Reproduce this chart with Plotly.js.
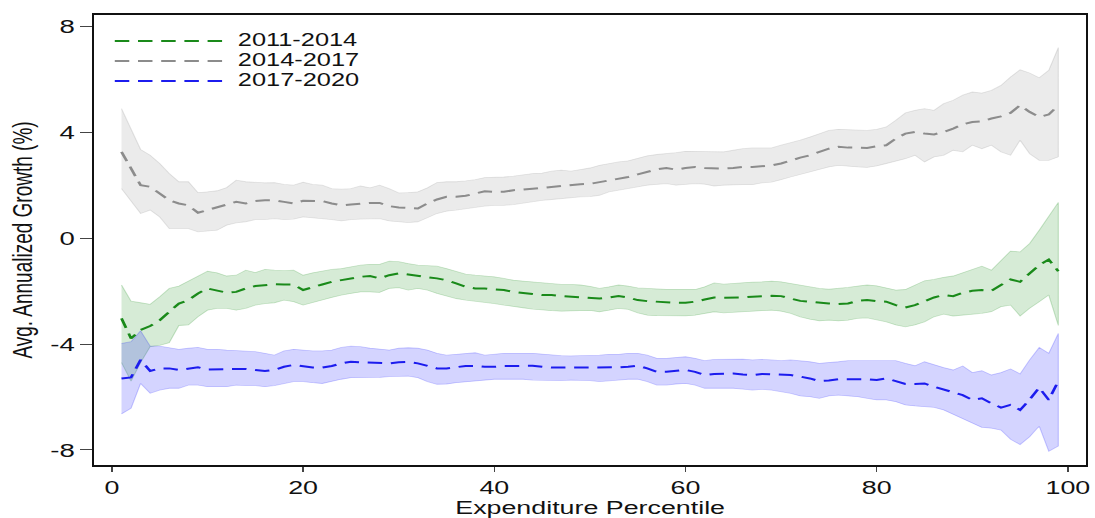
<!DOCTYPE html>
<html>
<head>
<meta charset="utf-8">
<script src="https://cdn.plot.ly/plotly-3.0.1.min.js"></script>
<style>
  html, body { margin: 0; padding: 0; background: #fff; overflow: hidden; }
  #chart { width: 755px; height: 518px; transform-origin: 0 0; }
</style>
</head>
<body>
<div id="chart"></div>
<script>
// ---------------- data ----------------
const percentile = [1,2,3,4,5,6,7,8,9,10,11,12,13,14,15,16,17,18,19,20,21,22,23,24,25,26,27,28,29,30,31,32,33,34,35,36,37,38,39,40,41,42,43,44,45,46,47,48,49,50,51,52,53,54,55,56,57,58,59,60,61,62,63,64,65,66,67,68,69,70,71,72,73,74,75,76,77,78,79,80,81,82,83,84,85,86,87,88,89,90,91,92,93,94,95,96,97,98,99];

const seriesNames = ["2011-2014", "2014-2017", "2017-2020"];

const growth_2011_2014 = [-3.03,-3.79,-3.47,-3.32,-3.10,-2.78,-2.47,-2.34,-2.09,-1.90,
 -1.99,-2.06,-2.03,-1.90,-1.81,-1.77,-1.74,-1.75,-1.75,-1.96,
 -1.84,-1.75,-1.65,-1.59,-1.52,-1.46,-1.43,-1.52,-1.40,-1.33,
 -1.37,-1.43,-1.48,-1.52,-1.59,-1.71,-1.84,-1.90,-1.90,-1.94,
 -1.96,-2.03,-2.06,-2.11,-2.15,-2.15,-2.19,-2.21,-2.24,-2.25,
 -2.28,-2.24,-2.19,-2.24,-2.34,-2.38,-2.40,-2.43,-2.44,-2.44,
 -2.40,-2.32,-2.24,-2.25,-2.25,-2.24,-2.21,-2.19,-2.18,-2.19,
 -2.28,-2.37,-2.40,-2.44,-2.47,-2.49,-2.47,-2.37,-2.34,-2.38,
 -2.40,-2.53,-2.62,-2.53,-2.40,-2.24,-2.15,-2.19,-2.06,-1.99,
 -1.96,-1.99,-1.77,-1.56,-1.65,-1.33,-1.02,-0.81,-1.25];
const upper_2011_2014 = [-1.77,-2.38,-2.44,-2.50,-2.21,-1.90,-1.81,-1.62,-1.43,-1.25,
 -1.31,-1.43,-1.40,-1.21,-1.30,-1.18,-1.21,-1.23,-1.21,-1.40,
 -1.31,-1.25,-1.18,-1.15,-1.08,-1.02,-0.99,-0.99,-0.87,-0.89,
 -0.96,-1.02,-1.04,-1.06,-1.15,-1.25,-1.36,-1.40,-1.43,-1.46,
 -1.52,-1.59,-1.62,-1.65,-1.69,-1.71,-1.75,-1.75,-1.77,-1.82,
 -1.90,-1.84,-1.77,-1.81,-1.88,-1.90,-1.93,-1.94,-1.94,-1.94,
 -1.94,-1.84,-1.69,-1.74,-1.71,-1.69,-1.66,-1.65,-1.62,-1.65,
 -1.71,-1.77,-1.84,-1.90,-1.93,-1.90,-1.86,-1.81,-1.77,-1.80,
 -1.88,-1.96,-1.94,-1.77,-1.61,-1.56,-1.48,-1.43,-1.31,-1.18,
 -1.06,-1.21,-0.83,-0.49,-0.52,-0.20,0.30,0.85,1.35];
const lower_2011_2014 = [-4.70,-5.40,-4.70,-4.10,-4.05,-3.95,-3.30,-3.28,-2.97,-2.72,
 -2.65,-2.65,-2.72,-2.65,-2.53,-2.47,-2.44,-2.34,-2.40,-2.53,
 -2.44,-2.34,-2.24,-2.15,-2.09,-2.03,-2.03,-2.05,-1.90,-1.87,
 -1.96,-1.90,-1.96,-2.09,-2.19,-2.28,-2.34,-2.40,-2.43,-2.47,
 -2.53,-2.59,-2.63,-2.68,-2.72,-2.74,-2.76,-2.74,-2.74,-2.73,
 -2.78,-2.72,-2.65,-2.69,-2.82,-2.91,-2.93,-2.94,-2.94,-2.94,
 -2.91,-2.84,-2.78,-2.82,-2.82,-2.78,-2.76,-2.74,-2.72,-2.76,
 -2.84,-2.97,-3.06,-3.12,-3.10,-3.12,-3.10,-3.03,-3.01,-3.07,
 -3.16,-3.28,-3.35,-3.28,-3.16,-2.97,-2.87,-2.94,-2.91,-2.88,
 -2.84,-2.78,-2.59,-2.53,-2.94,-2.65,-2.40,-2.15,-3.30];

const growth_2014_2017 = [3.26,2.63,2.00,1.94,1.69,1.43,1.31,1.24,0.96,1.06,
 1.16,1.28,1.37,1.31,1.40,1.43,1.43,1.37,1.31,1.41,
 1.41,1.40,1.31,1.24,1.27,1.31,1.33,1.33,1.21,1.16,
 1.14,1.12,1.31,1.46,1.56,1.56,1.60,1.69,1.77,1.75,
 1.75,1.81,1.85,1.87,1.90,1.94,1.97,2.00,2.04,2.05,
 2.12,2.19,2.25,2.31,2.41,2.50,2.60,2.65,2.59,2.65,
 2.69,2.65,2.63,2.63,2.65,2.69,2.69,2.73,2.75,2.82,
 2.94,3.04,3.13,3.26,3.38,3.45,3.42,3.42,3.41,3.47,
 3.51,3.76,3.95,4.01,3.95,3.92,4.01,4.14,4.30,4.39,
 4.41,4.52,4.60,4.73,5.02,4.77,4.58,4.67,5.02];
const upper_2014_2017 = [4.89,4.14,3.35,3.13,2.82,2.44,2.13,2.13,1.72,1.75,
 1.79,1.91,2.19,2.13,2.10,2.09,2.10,2.03,2.00,2.11,
 2.03,2.00,1.87,1.85,1.87,1.97,1.90,2.00,1.87,1.71,
 1.72,1.75,1.90,2.10,2.13,2.13,2.16,2.21,2.29,2.29,
 2.31,2.34,2.40,2.44,2.46,2.53,2.57,2.53,2.59,2.65,
 2.75,2.82,2.88,2.92,3.03,3.11,3.16,3.19,3.23,3.28,
 3.28,3.28,3.28,3.26,3.32,3.38,3.41,3.41,3.41,3.51,
 3.60,3.70,3.82,3.95,4.07,4.11,4.10,4.07,4.07,4.11,
 4.20,4.45,4.73,4.83,4.89,4.83,5.08,5.21,5.40,5.52,
 5.48,5.58,5.77,6.09,6.36,6.24,6.06,6.34,7.20];
const lower_2014_2017 = [1.87,1.43,0.93,1.06,0.80,0.36,0.36,0.36,0.24,0.26,
 0.30,0.49,0.58,0.62,0.70,0.70,0.74,0.70,0.72,0.80,
 0.78,0.74,0.70,0.65,0.70,0.72,0.74,0.74,0.65,0.62,
 0.59,0.62,0.77,0.93,1.02,1.06,1.09,1.16,1.21,1.24,
 1.24,1.27,1.31,1.37,1.43,1.46,1.50,1.52,1.56,1.57,
 1.62,1.75,1.81,1.87,1.94,2.00,2.04,2.06,2.00,2.04,
 2.06,2.04,1.97,2.00,2.02,2.02,2.02,2.09,2.12,2.21,
 2.31,2.41,2.50,2.60,2.69,2.75,2.73,2.69,2.67,2.73,
 2.82,2.92,3.00,3.13,2.88,3.07,3.13,3.32,3.26,3.51,
 3.38,3.51,3.26,3.13,3.70,3.19,2.94,2.94,3.07];

const growth_2017_2020 = [-5.30,-5.26,-4.60,-5.02,-4.92,-4.92,-4.98,-4.92,-4.88,-4.96,
 -4.96,-4.96,-4.96,-4.94,-4.98,-5.02,-4.98,-4.86,-4.79,-4.83,
 -4.89,-4.89,-4.83,-4.73,-4.67,-4.69,-4.70,-4.73,-4.73,-4.69,
 -4.68,-4.73,-4.83,-4.92,-4.92,-4.88,-4.83,-4.83,-4.86,-4.86,
 -4.83,-4.83,-4.82,-4.82,-4.86,-4.89,-4.89,-4.89,-4.89,-4.89,
 -4.89,-4.88,-4.88,-4.86,-4.82,-4.92,-5.05,-5.05,-5.01,-4.98,
 -5.05,-5.17,-5.13,-5.11,-5.11,-5.15,-5.17,-5.13,-5.15,-5.17,
 -5.17,-5.23,-5.30,-5.40,-5.38,-5.33,-5.33,-5.33,-5.33,-5.36,
 -5.30,-5.40,-5.51,-5.51,-5.49,-5.61,-5.71,-5.80,-5.93,-6.11,
 -6.05,-6.24,-6.40,-6.30,-6.49,-6.10,-5.65,-6.11,-5.40];
const upper_2017_2020 = [-3.98,-3.91,-3.50,-4.08,-4.08,-4.13,-4.20,-4.16,-4.13,-4.20,
 -4.20,-4.23,-4.25,-4.26,-4.29,-4.35,-4.42,-4.26,-4.20,-4.23,
 -4.26,-4.26,-4.23,-4.13,-4.08,-4.10,-4.16,-4.19,-4.23,-4.16,
 -4.14,-4.16,-4.23,-4.35,-4.42,-4.39,-4.35,-4.33,-4.42,-4.38,
 -4.35,-4.35,-4.35,-4.35,-4.38,-4.42,-4.44,-4.45,-4.44,-4.45,
 -4.42,-4.39,-4.39,-4.35,-4.35,-4.42,-4.54,-4.54,-4.50,-4.48,
 -4.54,-4.63,-4.58,-4.57,-4.58,-4.57,-4.60,-4.58,-4.60,-4.63,
 -4.60,-4.63,-4.67,-4.73,-4.71,-4.67,-4.63,-4.63,-4.63,-4.63,
 -4.63,-4.63,-4.73,-4.82,-4.67,-4.79,-4.89,-4.98,-4.83,-5.08,
 -5.01,-5.17,-5.08,-4.94,-5.13,-4.60,-4.13,-4.35,-3.60];
const lower_2017_2020 = [-6.64,-6.43,-5.49,-5.86,-5.74,-5.67,-5.67,-5.55,-5.55,-5.61,
 -5.61,-5.61,-5.55,-5.57,-5.57,-5.61,-5.57,-5.49,-5.42,-5.42,
 -5.46,-5.49,-5.42,-5.33,-5.27,-5.27,-5.26,-5.26,-5.23,-5.21,
 -5.21,-5.27,-5.42,-5.52,-5.51,-5.46,-5.42,-5.38,-5.36,-5.33,
 -5.33,-5.32,-5.33,-5.36,-5.36,-5.38,-5.38,-5.36,-5.36,-5.38,
 -5.42,-5.38,-5.36,-5.33,-5.33,-5.42,-5.55,-5.55,-5.51,-5.49,
 -5.55,-5.67,-5.67,-5.67,-5.67,-5.70,-5.74,-5.71,-5.74,-5.80,
 -5.86,-5.96,-5.99,-6.05,-5.96,-5.93,-5.96,-5.99,-6.05,-6.11,
 -6.11,-6.18,-6.30,-6.34,-6.37,-6.39,-6.49,-6.64,-6.81,-6.99,
 -7.15,-7.18,-7.25,-7.60,-7.80,-7.50,-7.10,-8.05,-7.85];

const xTickValues = [0, 20, 40, 60, 80, 100];
const xTickLabels = ["0", "20", "40", "60", "80", "100"];
const yTickValues = [-8, -4, 0, 4, 8];
const yTickLabels = ["-8", "-4", "0", "4", "8"];

// ---------------- figure ----------------
// The reference image is horizontally stretched; draw at a narrower width and stretch.
const STRETCH = 1.45;
const FULL_W = 1095, FULL_H = 518;
const W = FULL_W / STRETCH;
const chartDiv = document.getElementById('chart');
chartDiv.style.width = W + 'px';
chartDiv.style.transform = 'scaleX(' + STRETCH + ')';

const FONT = 'Liberation Sans, Arial, Helvetica, sans-serif';

function band(upper, lower, fill, edge) {
  return {
    x: percentile.concat(percentile.slice().reverse()),
    y: upper.concat(lower.slice().reverse()),
    type: 'scatter', mode: 'lines', fill: 'toself',
    fillcolor: fill, line: {color: edge, width: 0.8},
    hoverinfo: 'skip', showlegend: false
  };
}
function meanLine(y, name, color) {
  return {
    x: percentile, y: y, type: 'scatter', mode: 'lines',
    name: '<span style="font-size:17.5px">\u00a0' + name + '</span>',
    line: {color: color, width: 2, dash: '10px,6px'}
  };
}

const traces = [
  band(upper_2014_2017, lower_2014_2017, 'rgba(128,128,128,0.16)', 'rgba(128,128,128,0.2)'),
  band(upper_2011_2014, lower_2011_2014, 'rgba(0,128,0,0.16)', 'rgba(0,128,0,0.2)'),
  band(upper_2017_2020, lower_2017_2020, 'rgba(0,0,255,0.17)', 'rgba(0,0,255,0.2)'),
  meanLine(growth_2011_2014, seriesNames[0], '#1a8a1a'),
  meanLine(growth_2014_2017, seriesNames[1], '#8c8c8c'),
  meanLine(growth_2017_2020, seriesNames[2], '#1c1cee')
];

const L = 94 / STRETCH, R = 8 / STRETCH, T = 15, B = 53;
const PW = W - L - R, PH = FULL_H - T - B;

const layout = {
  width: W, height: FULL_H,
  margin: {l: L, r: R, t: T, b: B, pad: 0},
  paper_bgcolor: '#fff', plot_bgcolor: '#fff',
  font: {family: FONT, color: '#111', size: 19},
  showlegend: true,
  legend: {
    x: (74 - L) / PW, y: 1 - (26 - T) / PH, xanchor: 'left', yanchor: 'top',
    bgcolor: 'rgba(0,0,0,0)', borderwidth: 0,
    font: {family: FONT, size: 13.1, color: '#111'},
    itemwidth: 75, tracegroupgap: 0
  },
  xaxis: {
    range: [-1.85, 101.9], tickmode: 'array', tickvals: xTickValues, ticktext: xTickLabels,
    ticks: 'outside', ticklen: 5, tickwidth: 1, tickcolor: '#444',
    showline: true, linecolor: '#111', linewidth: 1.6, mirror: true,
    showgrid: false, zeroline: false, automargin: false,
    tickfont: {family: FONT, size: 18.5, color: '#111'},
    title: {text: 'Expenditure Percentile', font: {family: FONT, size: 18.5, color: '#111'}, standoff: 5}
  },
  yaxis: {
    range: [-8.57, 8.43], tickmode: 'array', tickvals: yTickValues, ticktext: yTickLabels,
    ticks: 'outside', ticklen: 8, tickwidth: 1, tickcolor: '#444',
    showline: true, linecolor: '#111', linewidth: 1.6, mirror: true,
    showgrid: false, zeroline: false, automargin: false,
    tickfont: {family: FONT, size: 19, color: '#111'},
    title: {text: 'Avg. Annualized Growth (%)', font: {family: FONT, size: 19, color: '#111'}, standoff: 7}
  }
};

Plotly.newPlot(chartDiv, traces, layout, {displayModeBar: false, staticPlot: true});
</script>
</body>
</html>
